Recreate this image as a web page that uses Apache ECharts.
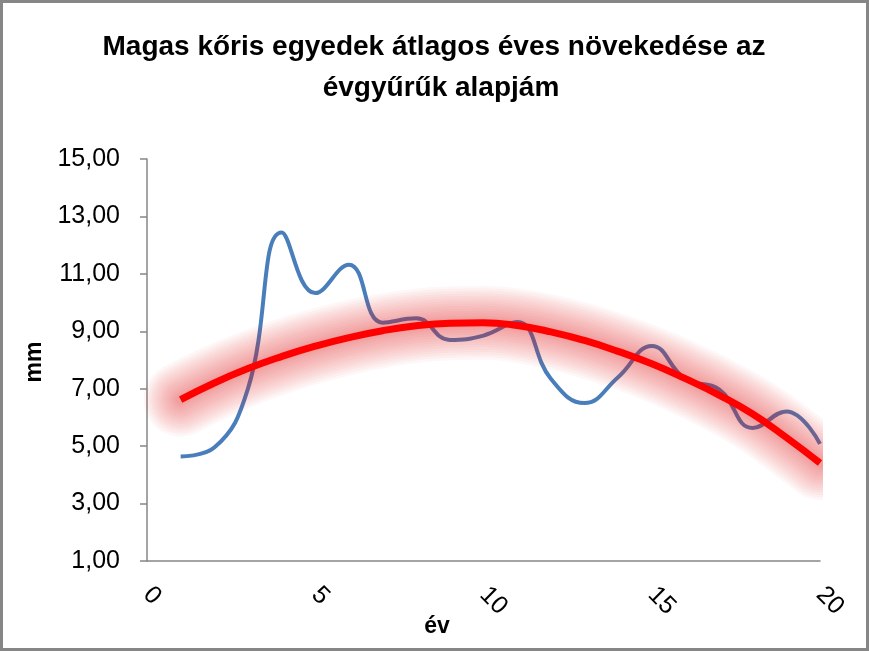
<!DOCTYPE html>
<html>
<head>
<meta charset="utf-8">
<script src="https://cdn.jsdelivr.net/npm/echarts@6/dist/echarts.min.js"></script>
<style>
html,body{margin:0;padding:0;background:#fff;}
#chart{width:869px;height:651px;}
</style>
</head>
<body>
<div id="chart"></div>
<script>
// Data
var years = [1,2,3,4,5,6,7,8,9,10,11,12,13,14,15,16,17,18,19,20];
var growth = [4.64,4.95,7.00,12.44,10.33,11.32,9.30,9.45,8.70,8.85,9.32,7.35,6.50,7.40,8.49,7.33,6.98,5.63,6.21,5.08];
var trend = [6.62,7.20,7.70,8.12,8.48,8.78,9.02,9.19,9.28,9.30,9.20,8.98,8.68,8.30,7.87,7.35,6.78,6.12,5.30,4.41];
var titleLines = ['Magas kőris egyedek átlagos éves növekedése az', 'évgyűrűk alapjám'];
var xName = 'év';
var yName = 'mm';

function pairs(xs, ys){ return xs.map(function(x,i){ return [x, ys[i]]; }); }

var chart = echarts.init(document.getElementById('chart'), null, {renderer:'canvas'});
var fontMain = '"Liberation Sans", Arial, sans-serif';

var series = [{
  type: 'line', name: 'növekedés', data: pairs(years, growth),
  smooth: 0.45, showSymbol: false, symbol: 'none', z: 2,
  lineStyle: {color: '#4a7ebb', width: 4}
}];
// soft glow around the trend line: many thin translucent layers
var glowWidths = [74, 69, 64, 59, 54, 49, 44, 39, 34, 29, 24, 19, 14, 10];
glowWidths.forEach(function(w, i){
  series.push({
    type: 'line', name: 'glow' + i, data: pairs(years, trend),
    smooth: true, showSymbol: false, symbol: 'none', z: 3, silent: true,
    lineStyle: {color: 'rgba(240,25,25,0.034)', width: w, cap: 'round', join: 'round'}
  });
});
series.push({
  type: 'line', name: 'trend', data: pairs(years, trend),
  smooth: true, showSymbol: false, symbol: 'none', z: 4,
  lineStyle: {color: '#ff0000', width: 7, cap: 'butt'}
});

chart.setOption({
  animation: false,
  backgroundColor: '#ffffff',
  grid: {left: 147, right: 49, top: 159, bottom: 90, containLabel: false},
  xAxis: {
    type: 'value', min: 0, max: 20, interval: 5,
    axisLine: {show: true, lineStyle: {color: '#868686', width: 1.5}},
    axisTick: {show: false},
    splitLine: {show: false},
    axisLabel: {rotate: -45, margin: 30, fontFamily: fontMain, fontSize: 25, color: '#000'}
  },
  yAxis: {
    type: 'value', min: 1, max: 15, interval: 2,
    axisLine: {show: true, lineStyle: {color: '#868686', width: 1.5}},
    axisTick: {show: true, inside: false, length: 7, lineStyle: {color: '#868686', width: 1.5}},
    splitLine: {show: false},
    axisLabel: {margin: 27, fontFamily: fontMain, fontSize: 25, color: '#000',
      formatter: function(v){ return v.toFixed(2).replace('.', ','); }}
  },
  graphic: [
    {type: 'rect', shape: {x: 823, y: 140, width: 42, height: 418}, style: {fill: '#ffffff'}, silent: true, z: 50},
    {type: 'rect', shape: {x: 1.5, y: 1.5, width: 866, height: 648}, style: {fill: 'none', stroke: '#868686', lineWidth: 3}, silent: true, z: 100},
    {type: 'text', x: 434, y: 47, style: {text: titleLines[0], font: 'bold 28px "Liberation Sans", Arial, sans-serif', fill: '#000', textAlign: 'center', textVerticalAlign: 'middle'}},
    {type: 'text', x: 441, y: 88, style: {text: titleLines[1], font: 'bold 28px "Liberation Sans", Arial, sans-serif', fill: '#000', textAlign: 'center', textVerticalAlign: 'middle'}},
    {type: 'text', x: 437, y: 627, style: {text: xName, font: 'bold 23px "Liberation Sans", Arial, sans-serif', fill: '#000', textAlign: 'center', textVerticalAlign: 'middle'}},
    {type: 'text', x: 35, y: 362, rotation: Math.PI/2, style: {text: yName, font: 'bold 23px "Liberation Sans", Arial, sans-serif', fill: '#000', textAlign: 'center', textVerticalAlign: 'middle'}}
  ],
  series: series
});
</script>
</body>
</html>
